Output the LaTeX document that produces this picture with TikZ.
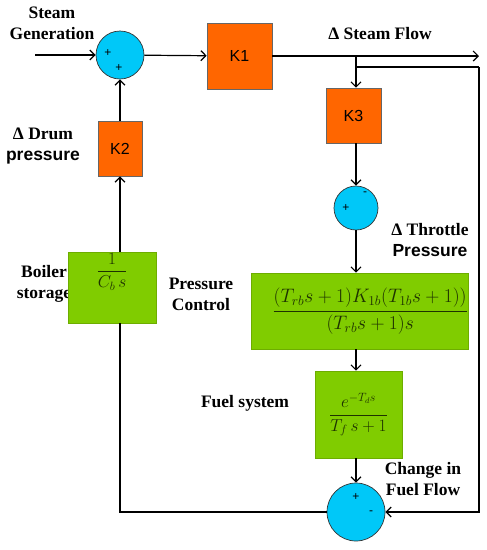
\documentclass[tikz,border=0pt]{standalone}
\usepackage{amsmath}
\usepackage{fontspec}
\setmainfont{Liberation Serif}
\setsansfont{Liberation Sans}
\usetikzlibrary{arrows.meta}
\definecolor{sumblue}{RGB}{0,200,248}
\definecolor{gainorange}{RGB}{255,102,0}
\definecolor{tfgreen}{RGB}{128,204,0}
\definecolor{mathgreen}{RGB}{30,50,0}
\tikzstyle{sum}=[circle,draw=black!80,fill=sumblue,inner sep=0pt,line width=0.7pt]
\tikzstyle{gain}=[rectangle,draw=black!60,fill=gainorange,inner sep=0pt,line width=0.6pt,font=\sffamily\fontsize{16}{18}\selectfont]
\tikzstyle{tf}=[rectangle,draw=tfgreen!85!black,fill=tfgreen,inner sep=0pt,line width=0.6pt,text=mathgreen,font=\fontsize{17}{19}\selectfont]
\tikzstyle{signal}=[-{Straight Barb[length=5pt,width=10pt]},line width=1.2pt]
\tikzstyle{wire}=[line width=1.2pt]
\tikzstyle{sign}=[font=\sffamily\fontsize{12}{12}\selectfont,inner sep=0pt]
\tikzstyle{caption}=[font=\bfseries\fontsize{17.5}{21}\selectfont,align=center,inner sep=0pt]

\begin{document}
\begin{tikzpicture}[x=1pt,y=-1pt]
                  \useasboundingbox (0,0) rectangle (487,550);

                  \node (capSG) at (52,23) [caption] {Steam\\Generation};
                  \node (capSF) at (380,34) [caption] {Δ Steam Flow};
                  \node (capDP) at (43,146) [caption] {Δ Drum\\{\sffamily pressure}};
                  \node (capBS) at (44,284) [caption] {Boiler\\storage};
                  \node (capPC) at (201,294) [caption] {Pressure\\Control};
                  \node (capTP) at (430,240) [caption] {Δ Throttle\\{\sffamily Pressure}};
                  \node (capFS) at (245,403) [caption] {Fuel system};
                  \node (capFF) at (423,479) [caption] {Change in\\Fuel Flow};

                  \node (sumA) at (120,55) [sum,minimum size=48pt] {};
                  \node (sumB) at (356,208) [sum,minimum size=44pt] {};
                  \node (sumC) at (356,512) [sum,minimum size=58pt] {};

                  \node (kone) at (239.5,56) [gain,minimum width=65pt,minimum height=66pt] {K1};
                  \node (ktwo) at (120,148.5) [gain,minimum width=44pt,minimum height=55pt] {K2};
                  \node (kthree) at (353.5,115.5) [gain,minimum width=55pt,minimum height=55pt] {K3};

                  \node (boiler) at (112,287.5) [tf,minimum width=88pt,minimum height=71pt,
                        label={[anchor=north,inner sep=1pt,text=mathgreen,font=\fontsize{17}{19}\selectfont]north:{$\dfrac{1}{C_b\,s}$}}] {};
                  \node (pc) at (359.5,311) [tf,text width=217pt,align=right,minimum height=76pt]
                        {\scalebox{1.13}{$\dfrac{(T_{rb}s+1)K_{1b}(T_{1b}s+1))}{(T_{rb}s+1)s}$}};
                  \node (fuel) at (358.5,414.5) [tf,minimum width=87pt,minimum height=87pt]
                        {$\dfrac{e^{-T_d s}}{T_f\,s+1}$};

                  \node (sA1) at ([shift={(-12,-2)}]sumA) [sign] {+};
                  \node (sA2) at ([shift={(-1,13)}]sumA) [sign] {+};
                  \node (sB1) at ([shift={(9,-14)}]sumB) [sign] {-};
                  \node (sB2) at ([shift={(-10,0)}]sumB) [sign] {+};
                  \node (sC1) at ([shift={(0,-15)}]sumC) [sign] {+};
                  \node (sC2) at ([shift={(15,1)}]sumC) [sign] {-};

                  \coordinate (sg) at (35,55);
                  \coordinate (sf) at (479,56);
                  \coordinate (br) at (356,56);
                  \coordinate (fbA) at (356,67);
                  \coordinate (fbB) at (479,67);

                  \draw [signal] (sg) -- (sumA);
                  \draw [signal] (sumA) -- (kone);
                  \draw [signal] (kone.east |- sf) -- (sf);
                  \draw [signal] (br) -- (br |- kthree.north);
                  \draw [wire] (fbA) -- (fbB);
                  \draw [signal] (fbB) |- (sumC);
                  \draw [signal] (kthree.south -| br) -- (sumB);
                  \draw [signal] (sumB) -- (sumB |- pc.north);
                  \draw [signal] (pc.south -| sumB) -- (fuel.north -| sumB);
                  \draw [signal] (fuel.south -| sumC) -- (sumC);
                  \draw [wire] (sumC) -| (ktwo |- boiler.south);
                  \draw [signal] (ktwo |- boiler.north) -- (ktwo);
                  \draw [signal] (ktwo) -- (sumA);
              \end{tikzpicture}
\end{document}
